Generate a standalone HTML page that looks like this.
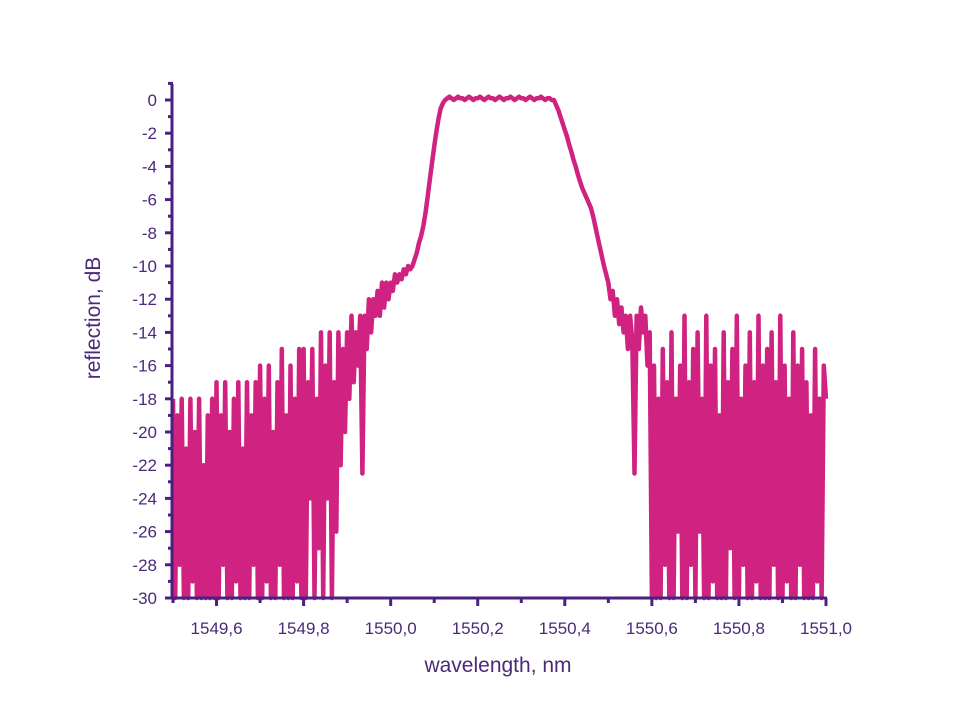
<!DOCTYPE html>
<html><head><meta charset="utf-8"><style>
body{margin:0;background:#fff;}
svg text{font-family:"Liberation Sans",sans-serif;fill:#4b2a7a;}
</style></head><body>
<svg id="chart" width="962" height="722">
<g id="plot"></g>
<g id="axes"></g>
<text x="498" y="672" font-size="21" text-anchor="middle">wavelength, nm</text>
<text transform="translate(100,318) rotate(-90)" font-size="21" text-anchor="middle">reflection, dB</text>
</svg>
<script>
const xStep = 0.005;
const leftStart = 1549.5;
const leftNoise = [
-18,-30,-19,-28,-18,-30,-21,-30,-18,-29,-20,-30,-18,-30,-22,-30,-19,-30,-18,-30,
-17,-30,-19,-28,-17,-30,-20,-30,-18,-29,-17,-30,-21,-30,-17,-30,-19,-28,-17,-30,
-16,-30,-18,-29,-16,-30,-20,-30,-17,-28,-15,-30,-19,-30,-16,-30,-18,-29,-15,-30,
-15,-30,-17,-24,-15,-30,-18,-27,-14,-30,-16,-24,-14,-30,-17,-26,-14,-22,-15,-20,
-14,-18,-13,-17,-14,-16,-13,-22.5,-13,-15,-12,-14,-12,-13,-11.5,-13,-11,-12.5,-11,-12
];
const mainStart = 1550.0;
const mainLobe = [
-11,-11.5,-10.5,-11,-10.5,-10.8,-10.2,-10.5,-10,-10.2,
-10,-9.6,-9.2,-8.6,-8.2,-7.6,-6.8,-5.8,-4.8,-3.8,-2.8,-1.9,-1.1,-0.5,-0.2,
0,0.1,0.2,0.1,0,0.1,0.2,0.1,0.1,0,0.1,0.2,0.1,0,0.1,0.1,0.2,0.1,0,0.1,0.2,0.1,0.1,0,0.1,
0.2,0.1,0,0.1,0.1,0.2,0.1,0,0.1,0.2,0.1,0.1,0,0.1,0.2,0.1,0,0.1,0.1,0.2,0.1,0,0.1,0.1,0,0,
-0.3,-0.6,-1,-1.4,-1.8,-2.2,-2.7,-3.1,-3.6,-4,-4.5,-4.9,-5.3,-5.6,-5.9,-6.2,-6.5,-7,-7.6,-8.2,-8.8,-9.4,-10,-10.5,-11,-12,-11.5,-13,-12,-13.5,
-12.5,-14,-13,-15,-13,-14.5,-22.5,-13,-15,-12.5,-14,-13,-16,-14
];
const rightStart = 1550.6;
const rightNoise = [
-30,-16,-30,-18,-30,-15,-28,-17,-30,-14,-30,-18,-26,-16,-30,-13,-30,-17,-28,-15,
-30,-14,-26,-18,-30,-13,-30,-16,-29,-15,-30,-19,-30,-14,-30,-17,-27,-15,-30,-13,
-30,-18,-28,-16,-30,-14,-30,-17,-29,-13,-30,-16,-30,-15,-30,-14,-28,-17,-30,-13,
-30,-16,-29,-18,-30,-14,-30,-16,-28,-15,-30,-17,-30,-19,-30,-15,-29,-18,-30,-16,-18
];
const xTicks = [1549.6,1549.8,1550.0,1550.2,1550.4,1550.6,1550.8,1551.0];
const xTickLabels = ["1549,6","1549,8","1550,0","1550,2","1550,4","1550,6","1550,8","1551,0"];
const yTicks = [0,-2,-4,-6,-8,-10,-12,-14,-16,-18,-20,-22,-24,-26,-28,-30];
const yTickLabels = ["0","-2","-4","-6","-8","-10","-12","-14","-16","-18","-20","-22","-24","-26","-28","-30"];

const X0=173, X1=826, Y0=100, Y1=598;
function sx(v){return X0+(v-1549.5)/(1.5)*(X1-X0);}
function sy(v){return Y0+(0-v)/30*(Y1-Y0);}
const NS="http://www.w3.org/2000/svg";
function mk(tag,attrs,parent){const e=document.createElementNS(NS,tag);for(const k in attrs)e.setAttribute(k,attrs[k]);parent.appendChild(e);return e;}
const plot=document.getElementById('plot'), axes=document.getElementById('axes');
const all=[];
[[leftStart,leftNoise],[mainStart,mainLobe],[rightStart,rightNoise]].forEach(([s,arr])=>arr.forEach((v,i)=>all.push([s+i*xStep,v])));
const pts=all.map(([w,v])=>sx(w).toFixed(1)+","+sy(Math.max(-30,v)).toFixed(1)).join(" ");
const line=mk('polyline',{points:pts,fill:'none',stroke:'#cf2281','stroke-width':4.5,'stroke-linejoin':'round'},plot);


const AC='#4b2080';
const ya=mk('line',{x1:X0-1,y1:84,x2:X0-1,y2:Y1+1,stroke:AC,'stroke-width':3},axes);


const xa=mk('line',{x1:X0-2,y1:Y1,x2:X1+1,y2:Y1,stroke:AC,'stroke-width':3},axes);


for(let d=1;d>=-30;d--){const y=sy(d);const major=(d%2===0)&&d<=0;
 mk('line',{x1:X0-(major?8:5),y1:y,x2:X0,y2:y,stroke:AC,'stroke-width':3},axes);}
yTicks.forEach((v,i)=>{const t=mk('text',{x:X0-16,y:sy(v)+6,'font-size':17,'text-anchor':'end'},axes);t.textContent=yTickLabels[i];
 
 });
for(let k=0;k<=15;k++){const x=sx(1549.5+k*0.1);const major=k%2===1;
 mk('line',{x1:x,y1:Y1,x2:x,y2:Y1+(major?8:5),stroke:AC,'stroke-width':3},axes);}
xTicks.forEach((v,i)=>{const t=mk('text',{x:sx(v),y:Y1+36,'font-size':17,'text-anchor':'middle'},axes);t.textContent=xTickLabels[i];
 
 });
</script>
</body></html>
